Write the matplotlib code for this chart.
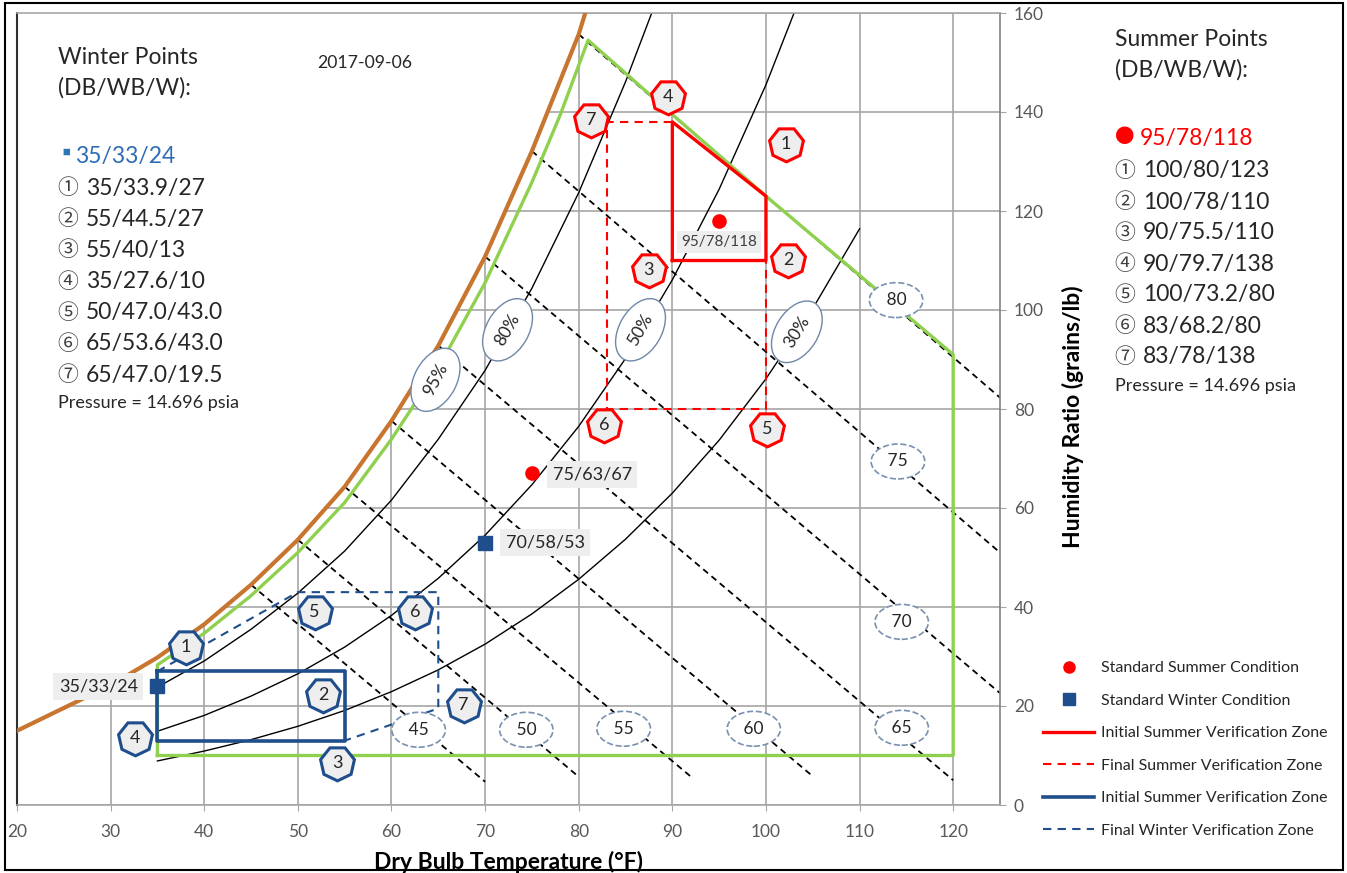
import matplotlib
matplotlib.use('Agg')
import matplotlib.pyplot as plt
from matplotlib.lines import Line2D
from matplotlib.patches import Rectangle

plt.rcParams['font.family'] = ['Lato', 'Noto Sans CJK JP', 'DejaVu Sans']

# ---- psychrometric background (DB in F, W in grains/lb) ----
sat_db = [20, 25, 30, 35, 40, 45, 50, 55, 60, 65, 70, 75, 80, 80.7]
sat_w = [15.0, 19.6, 24.2, 29.8, 36.5, 44.5, 53.6, 64.3, 77.6, 92.8, 110.8, 132.1, 155.7, 160]

env_db = [35, 35, 40, 45, 50, 55, 60, 65, 70, 75, 78, 81, 90, 100, 110, 120, 120, 35]
env_w = [10, 28.3, 34.7, 42.3, 51.0, 61.1, 73.9, 88.3, 105.5, 125.8, 139.3, 154.5, 139.5, 123, 107, 91, 10, 10]

rh80_db = [35, 40, 45, 50, 55, 60, 65, 70, 75, 80, 85, 87.8]
rh80_w = [23.8, 29.1, 35.5, 42.8, 51.3, 61.6, 73.9, 87.8, 104.4, 123.7, 146.1, 160]
rh50_db = [35, 40, 45, 50, 55, 60, 65, 70, 75, 80, 85, 90, 95, 100, 103]
rh50_w = [14.9, 18.1, 22.0, 26.5, 31.9, 38.3, 45.8, 54.5, 64.7, 76.5, 90.2, 106.1, 124.4, 145.5, 160]
rh30_db = [35, 40, 45, 50, 55, 60, 65, 70, 75, 80, 85, 90, 95, 100, 105, 110]
rh30_w = [8.9, 10.9, 13.2, 15.9, 19.1, 22.9, 27.3, 32.5, 38.6, 45.6, 53.7, 63.0, 73.7, 86.1, 100.3, 116.4]

rh_labels = ['95%', '80%', '50%', '30%']
rh_label_db = [64.7, 72.4, 86.6, 103.3]
rh_label_w = [85.9, 96.0, 96.0, 95.6]

wb_values = [45, 50, 55, 60, 65, 70, 75, 80]
wb_start_w = [44.5, 53.6, 64.3, 77.6, 92.8, 110.8, 132.1, 155.7]
wb_end_db = [70, 80, 92, 105, 120, 125, 125, 125]
wb_end_w = [4.7, 5.7, 5.7, 5.8, 5.0, 22.6, 51.0, 82.3]
wb_label_db = [62.9, 74.4, 84.8, 98.7, 114.5, 114.5, 114.1, 113.9]
wb_label_w = [15.2, 15.2, 15.4, 15.4, 15.6, 37.0, 69.4, 102.0]

# ---- verification zones ----
summer_init_db = [90, 90, 100, 100, 90]
summer_init_w = [110, 138, 123, 110, 110]
summer_final_db = [90, 83, 83, 100, 100]
summer_final_w = [138, 138, 80, 80, 112]
winter_init_db = [35, 55, 55, 35, 35]
winter_init_w = [27, 27, 13, 13, 27]
winter_final_db = [35, 50, 65, 65, 55]
winter_final_w = [27, 43, 43, 19.5, 13]

summer_pt_db = [95, 75]
summer_pt_w = [118, 67]
summer_pt_txt = ['95/78/118', '75/63/67']
winter_pt_db = [35, 70]
winter_pt_w = [24, 53]
winter_pt_txt = ['35/33/24', '70/58/53']

summer_num_db = [102.1, 102.4, 87.5, 89.5, 100.1, 82.7, 81.3]
summer_num_w = [133.5, 110.2, 108.1, 143.1, 75.9, 76.8, 138.4]
winter_num_db = [38.0, 52.7, 54.2, 32.6, 51.8, 62.5, 67.7]
winter_num_w = [32.0, 22.2, 8.4, 13.5, 38.9, 39.0, 20.2]

winter_list = ['35/33.9/27', '55/44.5/27', '55/40/13', '35/27.6/10',
               '50/47.0/43.0', '65/53.6/43.0', '65/47.0/19.5']
summer_list = ['100/80/123', '100/78/110', '90/75.5/110', '90/79.7/138',
               '100/73.2/80', '83/68.2/80', '83/78/138']
circled = ['\u2460', '\u2461', '\u2462', '\u2463', '\u2464', '\u2465', '\u2466']

RED = '#ff0000'
NAVY = '#1f4e8c'
GREEN = '#8fd14f'
ORANGE = '#c8752f'
GRID = '#a6a6a6'
TXT = '#262626'

W, H = 1347, 873
fig = plt.figure(figsize=(W / 100, H / 100), dpi=100)
ax = fig.add_axes([17 / W, 1 - 805 / H, 983 / W, 792 / H])
ax.set_xlim(20, 125)
ax.set_ylim(0, 160)

ax.set_xticks(range(20, 121, 10))
ax.set_yticks(range(0, 161, 20))
ax.yaxis.tick_right()
ax.tick_params(axis='both', labelsize=12.5, labelcolor='#595959', color=GRID, length=4)
ax.tick_params(axis='x', pad=10)
ax.tick_params(axis='y', pad=6)
ax.grid(True, color=GRID, linewidth=1.2)
ax.set_axisbelow(True)
for s in ['top', 'bottom']:
    ax.spines[s].set_color(GRID)
    ax.spines[s].set_linewidth(1.2)
ax.spines['left'].set_color('#303030')
ax.spines['left'].set_linewidth(1.5)
ax.spines['right'].set_color('#808080')
ax.spines['right'].set_linewidth(1.2)

# mask grid above saturation
ax.fill_between(sat_db, sat_w, 160, color='white', zorder=1)

# wet bulb lines
for i, wb in enumerate(wb_values):
    ax.plot([wb, wb_end_db[i]], [wb_start_w[i], wb_end_w[i]], color='black',
            lw=1.3, ls=(0, (3.5, 2.5)), zorder=2)
    ax.text(wb_label_db[i], wb_label_w[i], ' %d ' % wb, fontsize=12.5, color=TXT,
            ha='center', va='center', zorder=6,
            bbox=dict(boxstyle='ellipse,pad=0.25', fc='white', ec='#7a90b0', lw=1.2, ls='--'))

# RH lines
ax.plot(rh80_db, rh80_w, color='black', lw=1.0, zorder=2)
ax.plot(rh50_db, rh50_w, color='black', lw=1.0, zorder=2)
ax.plot(rh30_db, rh30_w, color='black', lw=1.0, zorder=2)

ax.plot(sat_db, sat_w, color=ORANGE, lw=3.0, zorder=3)
ax.plot(env_db, env_w, color=GREEN, lw=2.4, zorder=3)

rh_rot = [62, 60, 60, 58]
for i, t in enumerate(rh_labels):
    ax.text(rh_label_db[i], rh_label_w[i], t, fontsize=12.5, color=TXT, rotation=rh_rot[i],
            ha='center', va='center', rotation_mode='anchor', zorder=6,
            bbox=dict(boxstyle='ellipse,pad=0.4', fc='white', ec='#6f87a8', lw=1.0))

# zones
ax.plot(summer_init_db, summer_init_w, color=RED, lw=2.4, zorder=4)
ax.plot(summer_final_db, summer_final_w, color=RED, lw=1.5, ls=(0, (4, 3)), zorder=4)
ax.plot(winter_init_db, winter_init_w, color=NAVY, lw=2.6, zorder=4)
ax.plot(winter_final_db, winter_final_w, color=NAVY, lw=1.5, ls=(0, (4, 3)), zorder=4)

# standard points
ax.plot(summer_pt_db, summer_pt_w, 'o', color=RED, ms=9.5, zorder=5, ls='none')
ax.plot(winter_pt_db, winter_pt_w, 's', color=NAVY, ms=10.5, zorder=5, ls='none')

ax.text(95, 113.8, summer_pt_txt[0], fontsize=11, color='#404040', ha='center', va='center',
        zorder=6, bbox=dict(boxstyle='square,pad=0.25', fc='#eeeeee', ec='none'))
ax.text(77.2, 66.7, summer_pt_txt[1], fontsize=13, color=TXT, ha='left', va='center',
        zorder=6, bbox=dict(boxstyle='square,pad=0.3', fc='#eeeeee', ec='none'))
ax.text(72.2, 53, winter_pt_txt[1], fontsize=13, color=TXT, ha='left', va='center',
        zorder=6, bbox=dict(boxstyle='square,pad=0.3', fc='#eeeeee', ec='none'))
ax.text(28.7, 23.9, winter_pt_txt[0], fontsize=13, color=TXT, ha='center', va='center',
        zorder=6, bbox=dict(boxstyle='square,pad=0.3', fc='#eeeeee', ec='none'))

# numbered heptagons
hept = (7, 0, 180 / 7)
for i in range(7):
    ax.plot(summer_num_db[i], summer_num_w[i], marker=hept, ms=25, mfc='#eeeeee',
            mec=RED, mew=2.2, zorder=6)
    ax.text(summer_num_db[i], summer_num_w[i], str(i + 1), fontsize=13, color=TXT,
            ha='center', va='center', zorder=7)
    ax.plot(winter_num_db[i], winter_num_w[i], marker=hept, ms=25, mfc='#eeeeee',
            mec=NAVY, mew=2.2, zorder=6)
    ax.text(winter_num_db[i], winter_num_w[i], str(i + 1), fontsize=13, color=TXT,
            ha='center', va='center', zorder=7)

ax.set_xlabel('Dry Bulb Temperature (\u00b0F)', fontsize=16.5, fontweight='bold', color='black')
ax.xaxis.set_label_coords(0.5, -0.072)
ax.xaxis.label.set_verticalalignment('center')
ax.yaxis.set_label_position('right')
ax.set_ylabel('Humidity Ratio (grains/lb)', fontsize=16.5, fontweight='bold', color='black')
ax.yaxis.set_label_coords(1.074, 0.49)
ax.yaxis.label.set_verticalalignment('center')

# side text blocks
def fy(px):
    return 1 - px / H

CJK = ['Noto Sans CJK JP', 'DejaVu Sans']

fig.text(58 / W, fy(57), 'Winter Points', fontsize=16.5, color=TXT, va='center')
fig.text(58 / W, fy(88), '(DB/WB/W):', fontsize=16.5, color=TXT, va='center')
fig.text(54 / W, fy(154), '\u25aa', fontsize=17, color='#2e75b6', va='center', family=CJK)
fig.text(75 / W, fy(157), '35/33/24', fontsize=16.5, color='#2e6db5', va='center')
for i, s in enumerate(winter_list):
    y = fy(188 + 31.2 * i)
    fig.text(57 / W, y, circled[i], fontsize=15, color='#404040', va='center', family=CJK)
    fig.text(86 / W, y, s, fontsize=16.5, color=TXT, va='center')
fig.text(58 / W, fy(403), 'Pressure = 14.696 psia', fontsize=13, color=TXT, va='center')
fig.text(317 / W, fy(63), '2017-09-06', fontsize=12.7, color=TXT, va='center')

fig.text(1115 / W, fy(40), 'Summer Points', fontsize=16.5, color=TXT, va='center')
fig.text(1115 / W, fy(70), '(DB/WB/W):', fontsize=16.5, color=TXT, va='center')
fig.text(1115 / W, fy(138), '\u25cf', fontsize=14, color=RED, va='center', family=CJK)
fig.text(1140 / W, fy(138), '95/78/118', fontsize=16.5, color=RED, va='center')
for i, s in enumerate(summer_list):
    y = fy(171 + 31 * i)
    fig.text(1114 / W, y, circled[i], fontsize=15, color='#404040', va='center', family=CJK)
    fig.text(1143 / W, y, s, fontsize=16.5, color=TXT, va='center')
fig.text(1115 / W, fy(386), 'Pressure = 14.696 psia', fontsize=13, color=TXT, va='center')

handles = [Line2D([], [], marker='o', color=RED, ls='none', ms=8),
           Line2D([], [], marker='s', color=NAVY, ls='none', ms=8),
           Line2D([], [], color=RED, lw=2.4),
           Line2D([], [], color=RED, lw=1.5, ls=(0, (4, 3))),
           Line2D([], [], color=NAVY, lw=2.6),
           Line2D([], [], color=NAVY, lw=1.5, ls=(0, (4, 3)))]
labels = ['Standard Summer Condition', 'Standard Winter Condition',
          'Initial Summer Verification Zone', 'Final Summer Verification Zone',
          'Initial Summer Verification Zone', 'Final Winter Verification Zone']
fig.legend(handles, labels, loc='upper left', bbox_to_anchor=(1043 / W, fy(661)),
           frameon=False, fontsize=11.5, handlelength=3.2, handletextpad=0.45,
           labelspacing=1.15, borderpad=0, borderaxespad=0, labelcolor=TXT)

fig.patches.append(Rectangle((5 / W, 3 / H), 1338 / W, 867 / H, transform=fig.transFigure,
                             fill=False, ec='black', lw=1.5))

fig.savefig('out.png', dpi=100)
